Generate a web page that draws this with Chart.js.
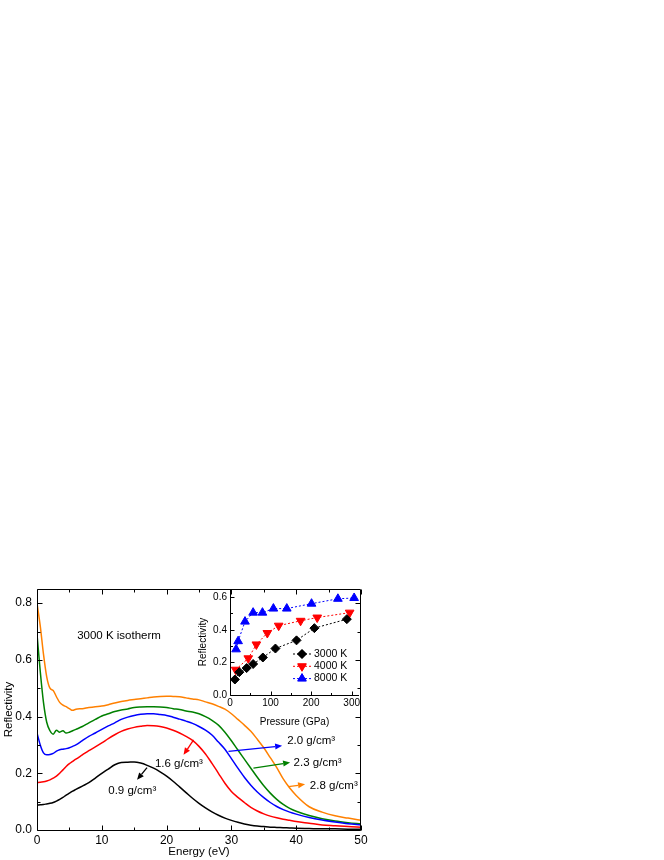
<!DOCTYPE html>
<html><head><meta charset="utf-8">
<script src="https://cdn.jsdelivr.net/npm/chart.js@4"></script>
<style>
html,body{margin:0;padding:0;background:#fff;}
#wrap{position:relative;width:664px;height:860px;overflow:hidden;}
#main{position:absolute;left:0;top:0;}
#inset{position:absolute;left:180px;top:580px;}
</style></head><body>
<div id="wrap"><canvas id="main" width="664" height="860"></canvas><canvas id="inset" width="185" height="150"></canvas></div>
<script>
// ---------------- main plot data (Energy in eV, reflectivity) ----------------
const energy = [0,0.5,1,1.5,2,2.5,3,3.5,4,4.5,5,5.5,6,7,8,9,10,11,12,13,14,15,16,17,18,19,20,21,22,23,24,25,26,27,28,29,30,31,32,33,34,35,36,37,38,39,40,42,44,46,48,50];
const rho09 = [0.088,0.089,0.09,0.092,0.094,0.097,0.102,0.108,0.115,0.123,0.13,0.137,0.143,0.155,0.167,0.183,0.2,0.215,0.23,0.238,0.239,0.24,0.236,0.228,0.218,0.205,0.19,0.172,0.152,0.132,0.112,0.094,0.078,0.064,0.052,0.042,0.034,0.027,0.021,0.017,0.014,0.012,0.01,0.009,0.008,0.007,0.006,0.005,0.004,0.004,0.003,0.003];
const rho16 = [0.167,0.168,0.17,0.173,0.177,0.183,0.19,0.2,0.212,0.224,0.234,0.242,0.25,0.265,0.28,0.293,0.307,0.322,0.336,0.348,0.356,0.362,0.366,0.369,0.368,0.365,0.36,0.352,0.342,0.33,0.316,0.295,0.268,0.235,0.2,0.165,0.136,0.115,0.097,0.08,0.067,0.057,0.049,0.043,0.038,0.034,0.03,0.024,0.018,0.015,0.012,0.01];
const rho20 = [0.342,0.3,0.272,0.265,0.266,0.27,0.278,0.283,0.285,0.287,0.29,0.295,0.3,0.315,0.33,0.342,0.355,0.367,0.378,0.39,0.398,0.404,0.408,0.41,0.41,0.407,0.404,0.398,0.391,0.384,0.376,0.365,0.352,0.335,0.31,0.285,0.252,0.218,0.186,0.158,0.134,0.114,0.097,0.083,0.072,0.063,0.056,0.044,0.035,0.028,0.022,0.018];
const rho23 = [0.69,0.56,0.45,0.38,0.35,0.338,0.352,0.345,0.35,0.342,0.345,0.35,0.355,0.365,0.378,0.39,0.402,0.41,0.418,0.423,0.427,0.432,0.434,0.435,0.435,0.434,0.432,0.428,0.425,0.42,0.416,0.41,0.4,0.387,0.37,0.345,0.315,0.282,0.25,0.218,0.186,0.156,0.13,0.108,0.09,0.076,0.066,0.051,0.04,0.032,0.026,0.021];
const rho28 = [0.8,0.72,0.62,0.54,0.5,0.492,0.47,0.45,0.44,0.435,0.428,0.422,0.426,0.428,0.432,0.435,0.437,0.442,0.448,0.453,0.457,0.46,0.463,0.466,0.469,0.471,0.472,0.471,0.47,0.466,0.462,0.459,0.452,0.445,0.436,0.426,0.41,0.39,0.37,0.348,0.32,0.29,0.255,0.22,0.18,0.148,0.122,0.082,0.063,0.05,0.042,0.034];
const densityLabels = ['0.9 g/cm³','1.6 g/cm³','2.0 g/cm³','2.3 g/cm³','2.8 g/cm³'];
const curveColors = ['#000000','#FF0000','#0000FF','#008000','#FF8000'];
const xTickLabels = ['0','10','20','30','40','50'];
const yTickLabels = ['0.0','0.2','0.4','0.6','0.8'];

// ---------------- inset data (Pressure in GPa, reflectivity) ----------------
const p3000 = [12,23,41,57,81,112,164,208,288];
const r3000 = [0.095,0.14,0.165,0.19,0.23,0.285,0.335,0.41,0.465];
const p4000 = [14,45,65,92,120,174,215,295];
const r4000 = [0.155,0.225,0.31,0.38,0.425,0.455,0.475,0.505];
const p8000 = [15,20,37,57,80,107,140,201,266,306];
const r8000 = [0.28,0.33,0.45,0.505,0.505,0.53,0.53,0.56,0.59,0.595];
const insetLabels = ['3000 K','4000 K','8000 K'];

// annotation anchors in data units (E, R): arrow tail, arrow head, label start
const annots = [
  {tail:[16.98,0.22], head:[15.44,0.177], text:[11.0,0.137]},
  {tail:[24.16,0.318], head:[22.62,0.265], text:[18.2,0.233]},
  {tail:[29.55,0.277], head:[37.83,0.297], text:[38.6,0.316]},
  {tail:[33.4,0.218], head:[39.06,0.238], text:[39.6,0.236]},
  {tail:[38.8,0.153], head:[41.37,0.161], text:[42.1,0.155]}
];

const FONT = "'Liberation Sans', Arial, Helvetica, sans-serif";
Chart.defaults.font.family = FONT;
Chart.defaults.color = '#000';

function crisp(v){ return Math.round(v) + 0.5; }

function drawArrow(ctx, x1, y1, x2, y2, color){
  const ang = Math.atan2(y2 - y1, x2 - x1);
  const L = 7, W = 3;
  const bx = x2 - L * Math.cos(ang), by = y2 - L * Math.sin(ang);
  ctx.strokeStyle = color; ctx.fillStyle = color; ctx.lineWidth = 1.3;
  ctx.beginPath(); ctx.moveTo(x1, y1); ctx.lineTo(bx, by); ctx.stroke();
  ctx.beginPath();
  ctx.moveTo(x2, y2);
  ctx.lineTo(bx + W * Math.sin(ang), by - W * Math.cos(ang));
  ctx.lineTo(bx - W * Math.sin(ang), by + W * Math.cos(ang));
  ctx.closePath(); ctx.fill();
}

const mainDecor = {
  id: 'mainDecor',
  afterDatasetsDraw(chart){
    const {ctx, chartArea: a, scales: {x, y}} = chart;
    ctx.save();
    ctx.strokeStyle = '#000'; ctx.lineWidth = 1;
    const L = crisp(a.left), R = crisp(a.right - 1), T = crisp(a.top), B = crisp(a.bottom);
    ctx.beginPath();
    ctx.moveTo(L, T); ctx.lineTo(R, T); ctx.lineTo(R, B); ctx.lineTo(L, B); ctx.closePath();
    ctx.stroke();
    for (let v = 0; v <= 50.001; v += 5) {
      const px = crisp(x.getPixelForValue(v));
      const len = (Math.round(v) % 10 === 0) ? 5 : 3;
      ctx.beginPath();
      ctx.moveTo(px, B); ctx.lineTo(px, B - len);
      ctx.moveTo(px, T); ctx.lineTo(px, T + len);
      ctx.stroke();
    }
    for (let k = 0; k <= 8; k++) {
      const v = k / 10;
      const py = crisp(y.getPixelForValue(v));
      const len = (k % 2 === 0) ? 5 : 3;
      ctx.beginPath();
      ctx.moveTo(L, py); ctx.lineTo(L + len, py);
      ctx.moveTo(R, py); ctx.lineTo(R - len, py);
      ctx.stroke();
    }
    ctx.font = '11.5px ' + FONT;
    ctx.fillStyle = '#000'; ctx.textBaseline = 'middle'; ctx.textAlign = 'left';
    ctx.fillText('3000 K isotherm', x.getPixelForValue(6.2), y.getPixelForValue(0.685));
    annots.forEach((an, i) => {
      drawArrow(ctx, x.getPixelForValue(an.tail[0]), y.getPixelForValue(an.tail[1]),
                x.getPixelForValue(an.head[0]), y.getPixelForValue(an.head[1]), curveColors[i]);
      ctx.fillStyle = '#000';
      ctx.fillText(densityLabels[i], x.getPixelForValue(an.text[0]), y.getPixelForValue(an.text[1]));
    });
    ctx.restore();
  }
};

new Chart(document.getElementById('main'), {
  type: 'line',
  data: {
    datasets: [rho09, rho16, rho20, rho23, rho28].map((arr, i) => ({
      label: densityLabels[i],
      data: energy.map((e, j) => ({x: e, y: arr[j]})),
      borderColor: curveColors[i],
      borderWidth: 1.5,
      pointRadius: 0,
      fill: false,
      cubicInterpolationMode: 'monotone'
    }))
  },
  options: {
    responsive: false, animation: false, devicePixelRatio: 1,
    layout: {padding: {left: 0, top: 589, right: 303, bottom: 0}},
    plugins: {legend: {display: false}, tooltip: {enabled: false}},
    scales: {
      x: {
        type: 'linear', min: 0, max: 50,
        grid: {display: false, drawTicks: false}, border: {display: false},
        ticks: {stepSize: 10, includeBounds: false, padding: 3, maxRotation: 0, color: '#000',
                font: {size: 12}, callback: (v) => xTickLabels[Math.round(v / 10)]},
        title: {display: true, text: 'Energy (eV)', color: '#000', font: {size: 11.5}, padding: {top: 0, bottom: 1}},
        afterFit(s){ s.height = 30; }
      },
      y: {
        type: 'linear', min: 0, max: 0.85,
        grid: {display: false, drawTicks: false}, border: {display: false},
        ticks: {stepSize: 0.2, includeBounds: false, padding: 5, color: '#000',
                font: {size: 12}, callback: (v) => yTickLabels[Math.round(v / 0.2)]},
        title: {display: true, text: 'Reflectivity', color: '#000', font: {size: 11.5}, padding: {top: 2, bottom: 0}},
        afterFit(s){ s.width = 37; }
      }
    }
  },
  plugins: [mainDecor]
});

// ---------------- inset ----------------
const insetColors = ['#000000', '#FF0000', '#0000FF'];
const insetStyles = [
  {pointStyle: 'rectRot', radius: 4.5, rotation: 0},
  {pointStyle: 'triangle', radius: 5, rotation: 180},
  {pointStyle: 'triangle', radius: 5, rotation: 0}
];

const insetDecor = {
  id: 'insetDecor',
  afterDatasetsDraw(chart){
    const {ctx, chartArea: a, scales: {x, y}} = chart;
    ctx.save();
    ctx.strokeStyle = '#000'; ctx.lineWidth = 1;
    const L = crisp(a.left), B = crisp(a.bottom);
    ctx.beginPath();
    ctx.moveTo(L, a.top); ctx.lineTo(L, B); ctx.lineTo(a.right, B);
    ctx.stroke();
    for (let v = 0; v <= 318; v += 50) {
      const px = crisp(x.getPixelForValue(v));
      const len = (v % 100 === 0) ? 4 : 2.5;
      ctx.beginPath(); ctx.moveTo(px, B); ctx.lineTo(px, B - len); ctx.stroke();
    }
    for (let k = 0; k <= 6; k++) {
      const py = crisp(y.getPixelForValue(k / 10));
      const len = (k % 2 === 0) ? 4 : 2.5;
      ctx.beginPath(); ctx.moveTo(L, py); ctx.lineTo(L + len, py); ctx.stroke();
    }
    ctx.font = '10.5px ' + FONT;
    ctx.textBaseline = 'middle'; ctx.textAlign = 'left';
    const lx0 = a.right - 66, lx1 = a.right - 48, tx = a.right - 45;
    insetLabels.forEach((lab, i) => {
      const ly = a.bottom - 41 + i * 12.3;
      ctx.strokeStyle = insetColors[i]; ctx.setLineDash([2, 2]); ctx.lineWidth = 1;
      ctx.beginPath(); ctx.moveTo(lx0, ly); ctx.lineTo(lx1, ly); ctx.stroke();
      ctx.setLineDash([]);
      ctx.fillStyle = insetColors[i]; ctx.strokeStyle = insetColors[i];
      Chart.helpers.drawPoint(ctx, {pointStyle: insetStyles[i].pointStyle, radius: insetStyles[i].radius,
        rotation: insetStyles[i].rotation, borderWidth: 1}, (lx0 + lx1) / 2, ly);
      ctx.fill();
      ctx.fillStyle = '#000';
      ctx.fillText(lab, tx, ly);
    });
    ctx.restore();
  }
};

new Chart(document.getElementById('inset'), {
  type: 'line',
  data: {
    datasets: [[p3000, r3000], [p4000, r4000], [p8000, r8000]].map((pr, i) => ({
      label: insetLabels[i],
      data: pr[0].map((p, j) => ({x: p, y: pr[1][j]})),
      borderColor: insetColors[i],
      backgroundColor: insetColors[i],
      borderWidth: 1,
      borderDash: [2, 2],
      pointStyle: insetStyles[i].pointStyle,
      pointRadius: insetStyles[i].radius,
      pointRotation: insetStyles[i].rotation,
      pointBorderWidth: 1,
      pointBorderColor: insetColors[i],
      pointBackgroundColor: insetColors[i],
      fill: false,
      tension: 0
    }))
  },
  options: {
    responsive: false, animation: false, devicePixelRatio: 1,
    layout: {padding: {left: 0, top: 9, right: 4, bottom: 0}},
    plugins: {legend: {display: false}, tooltip: {enabled: false}},
    scales: {
      x: {
        type: 'linear', min: 0, max: 318,
        grid: {display: false, drawTicks: false}, border: {display: false},
        ticks: {stepSize: 100, includeBounds: false, padding: 2, maxRotation: 0, color: '#000', font: {size: 10}},
        title: {display: true, text: 'Pressure (GPa)', color: '#000', font: {size: 10}, padding: {top: 0, bottom: 2}},
        afterFit(s){ s.height = 35; }
      },
      y: {
        type: 'linear', min: 0, max: 0.65,
        grid: {display: false, drawTicks: false}, border: {display: false},
        ticks: {stepSize: 0.2, includeBounds: false, padding: 3, color: '#000', font: {size: 10},
                callback: (v) => v.toFixed(1)},
        title: {display: true, text: 'Reflectivity', color: '#000', font: {size: 10}, padding: {top: 17, bottom: 0}},
        afterFit(s){ s.width = 50; }
      }
    }
  },
  plugins: [insetDecor]
});
</script>
</body></html>
